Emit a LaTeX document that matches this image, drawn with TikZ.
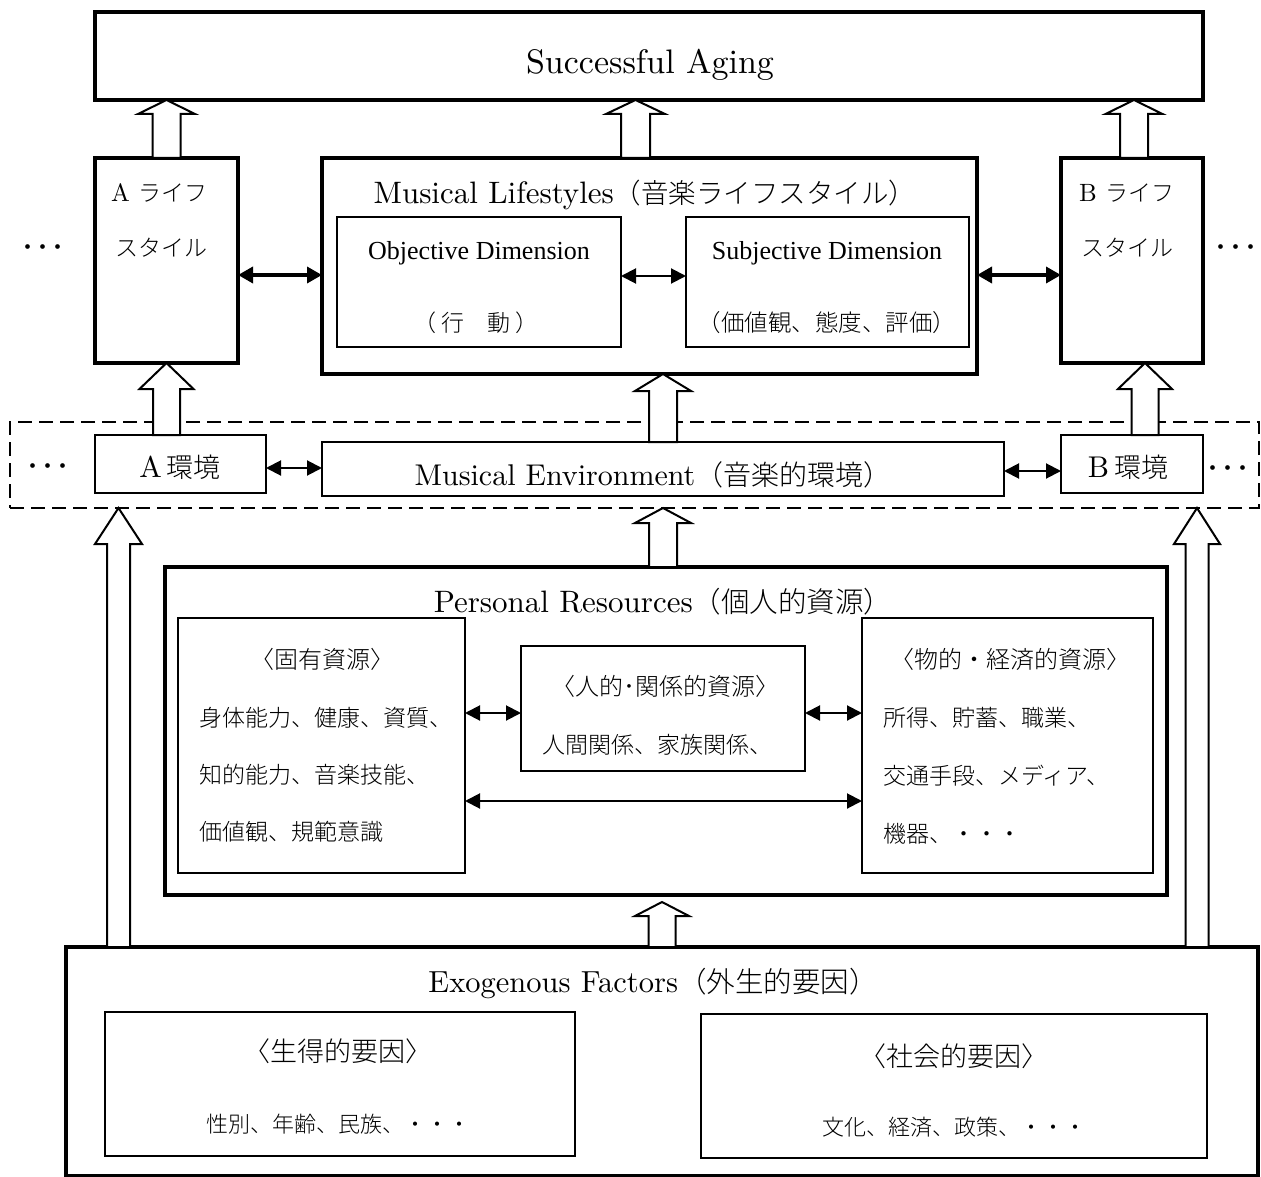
\documentclass[tikz,border=0pt]{standalone}
\usepackage{fontspec}
\newfontfamily\cjk{Noto Sans CJK JP Light}
\newfontfamily\tms{Liberation Serif}
\newfontfamily\lmten{lmroman10-regular.otf}
\usetikzlibrary{arrows.meta,calc}
\newcommand{\fsz}[1]{\fontsize{#1}{#1}\selectfont}
\newcommand{\hollowup}[5]{\draw[hollowline] let \p1=#1, \p2=#2 in (\x1-#3,\y1) -- (\x1-#3,\y2-#5) -- (\x1-#4,\y2-#5) -- (\x1,\y2) -- (\x1+#4,\y2-#5) -- (\x1+#3,\y2-#5) -- (\x1+#3,\y1) -- cycle;}
\newcommand{\threedots}{\hspace{-8pt}・\hspace{-10pt}・\hspace{-10pt}・\hspace{-8pt}}
\tikzset{
 bx/.style={draw, line width=2pt, anchor=north west, inner sep=0pt, outer sep=0pt},
 hv/.style={bx, line width=4.5pt},
 md/.style={bx, line width=3.5pt},
 t/.style={inner sep=0pt, outer sep=0pt, anchor=base, font=\lmten\fsz{#1}, yshift={-0.35*#1pt}},
 ct/.style={t=#1, font=\cjk\fsz{#1}},
 tt/.style={t=#1, font=\tms\fsz{#1}},
 dbl/.style={{Triangle[length=15pt,width=15pt]}-{Triangle[length=15pt,width=15pt]}, line width=2pt},
 dblthick/.style={{Triangle[length=15pt,width=16pt]}-{Triangle[length=15pt,width=16pt]}, line width=3.5pt},
 hollowline/.style={draw, fill=white, line width=2pt, line join=miter, miter limit=10},
 dashedbox/.style={bx, line width=1.8pt, dash pattern=on 14pt off 7pt},
}
\begin{document}
\begin{tikzpicture}[x=1pt,y=-1pt]
\useasboundingbox (0,0) rectangle (1261,1177);
% boxes
\node[hv, minimum width=1108pt, minimum height=88pt] (SA) at (95,12) {};
\node[md, minimum width=143pt, minimum height=205pt] (A) at (95,158) {};
\node[hv, minimum width=655pt, minimum height=216pt] (ML) at (322,158) {};
\node[bx, minimum width=284pt, minimum height=130pt] (Obj) at (337,217) {};
\node[bx, minimum width=283pt, minimum height=130pt] (Subj) at (686,217) {};
\node[md, minimum width=142pt, minimum height=205pt] (B) at (1061,158) {};
\node[dashedbox, minimum width=1249pt, minimum height=86pt] (env) at (10,422) {};
\node[bx, minimum width=171pt, minimum height=58pt] (Aenv) at (95,435) {};
\node[bx, minimum width=682pt, minimum height=54pt] (ME) at (322,442) {};
\node[bx, minimum width=142pt, minimum height=58pt] (Benv) at (1061,435) {};
\node[hv, minimum width=1002pt, minimum height=328pt] (PR) at (165,567) {};
\node[bx, minimum width=287pt, minimum height=255pt] (R1) at (178,618) {};
\node[bx, minimum width=284pt, minimum height=125pt] (R2) at (521,646) {};
\node[bx, minimum width=291pt, minimum height=255pt] (R3) at (862,618) {};
\node[md, minimum width=1192pt, minimum height=229pt] (Ex) at (66,947) {};
\node[bx, minimum width=470pt, minimum height=144pt] (E1) at (105,1012) {};
\node[bx, minimum width=506pt, minimum height=144pt] (E2) at (701,1014) {};
% texts
\node[t=34] (tSA) at (650,62) {Successful Aging};
\node[t=25, anchor=base west] (tA1) at (111,193) {A\hspace{9pt}{\cjk\fsz{23}ライフ}};
\node[ct=23, anchor=base west] (tA2) at (115,248) {スタイル};
\node[t=25, anchor=base west] (tB1) at (1079,193) {B\hspace{9pt}{\cjk\fsz{23}ライフ}};
\node[ct=23, anchor=base west] (tB2) at (1081,248) {スタイル};
\node[t=31] (tML) at (645,193) {Musical Lifestyles{\cjk\fsz{27.5}（音楽ライフスタイル）}};
\node[tt=26] (tO1) at (479,250) {Objective Dimension};
\node[ct=23] (tO2) at (476,323) {（\hspace{5pt}行　動\hspace{5pt}）};
\node[tt=26] (tS1) at (827,250) {Subjective Dimension};
\node[ct=23.5] (tS2) at (827,323) {（価値観、態度、評価）};
\node[ct=25] (d1) at (47,248) {\threedots};
\node[ct=25] (d2) at (1240,248) {\threedots};
\node[ct=25] (d3) at (52,467) {\threedots};
\node[ct=25] (d4) at (1232,469) {\threedots};
\node[t=30] (tAe) at (180,467) {A\hspace{5pt}{\cjk\fsz{27}環境}};
\node[t=30] (tBe) at (1128,467) {B\hspace{5pt}{\cjk\fsz{27}環境}};
\node[t=30] (tME) at (653,475) {Musical Environment{\cjk\fsz{28}（音楽的環境）}};
\node[t=31] (tPR) at (663,602) {Personal Resources{\cjk\fsz{28.5}（個人的資源）}};
\node[ct=24] (r1h) at (322,660) {〈固有資源〉};
\node[ct=23, anchor=base west] (r1a) at (199,718) {身体能力、健康、資質、};
\node[ct=23, anchor=base west] (r1b) at (199,775) {知的能力、音楽技能、};
\node[ct=23, anchor=base west] (r1c) at (199,832) {価値観、規範意識};
\node[ct=24] (r2h) at (665,687) {〈人的･関係的資源〉};
\node[ct=23] (r2a) at (657,745) {人間関係、家族関係、};
\node[ct=24] (r3h) at (1010,660) {〈物的・経済的資源〉};
\node[ct=23, anchor=base west] (r3a) at (883,718) {所得、貯蓄、職業、};
\node[ct=23, anchor=base west] (r3b) at (883,776) {交通手段、メディア、};
\node[ct=23, anchor=base west] (r3c) at (883,834) {機器、・・・};
\node[t=30.5] (tEx) at (653,982) {Exogenous Factors{\cjk\fsz{28.5}（外生的要因）}};
\node[ct=27] (e1h) at (338,1052) {〈生得的要因〉};
\node[ct=22] (e1a) at (338,1125) {性別、年齢、民族、・・・};
\node[ct=27] (e2h) at (954,1057) {〈社会的要因〉};
\node[ct=22] (e2a) at (954,1128) {文化、経済、政策、・・・};
% helper rows
\coordinate (r275) at (0,275);
\coordinate (r276) at (0,276);
\coordinate (r468) at (0,468);
\coordinate (r471) at (0,471);
\coordinate (r713) at (0,713);
\coordinate (r801) at (0,801);
% double arrows
\draw[dblthick] (A.east |- r275) -- (ML.west |- r275);
\draw[dblthick] (ML.east |- r275) -- (B.west |- r275);
\draw[dbl] (Obj.east |- r276) -- (Subj.west |- r276);
\draw[dbl] (Aenv.east |- r468) -- (ME.west |- r468);
\draw[dbl] (ME.east |- r471) -- (Benv.west |- r471);
\draw[dbl] (R1.east |- r713) -- (R2.west |- r713);
\draw[dbl] (R2.east |- r713) -- (R3.west |- r713);
\draw[dbl] (R1.east |- r801) -- (R3.west |- r801);
% hollow block arrows
\hollowup{(A.north)}{(SA.south)}{14pt}{28.5pt}{14pt}
\hollowup{($(ML.north)+(-14,0)$)}{(SA.south)}{14.5pt}{29.5pt}{14pt}
\hollowup{($(B.north)+(2,0)$)}{(SA.south)}{14pt}{28.5pt}{14pt}
\hollowup{(Aenv.north -| A.south)}{(A.south)}{13.5pt}{27pt}{26pt}
\hollowup{(ME.north)}{(ML.south)}{14pt}{28pt}{17pt}
\hollowup{($(Benv.north)+(13,0)$)}{(B.south)}{13.5pt}{27pt}{26pt}
\hollowup{($(PR.north)+(-3,0)$)}{(env.south)}{14pt}{28pt}{15pt}
\hollowup{($(Ex.north west)+(52.5,0)$)}{(env.south)}{11.5pt}{23.5pt}{36pt}
\hollowup{($(Ex.north east)+(-61,0)$)}{(env.south)}{11.5pt}{23pt}{36pt}
\hollowup{(Ex.north)}{($(PR.south)+(0,7)$)}{13.5pt}{27pt}{14pt}
\end{tikzpicture}
\end{document}
